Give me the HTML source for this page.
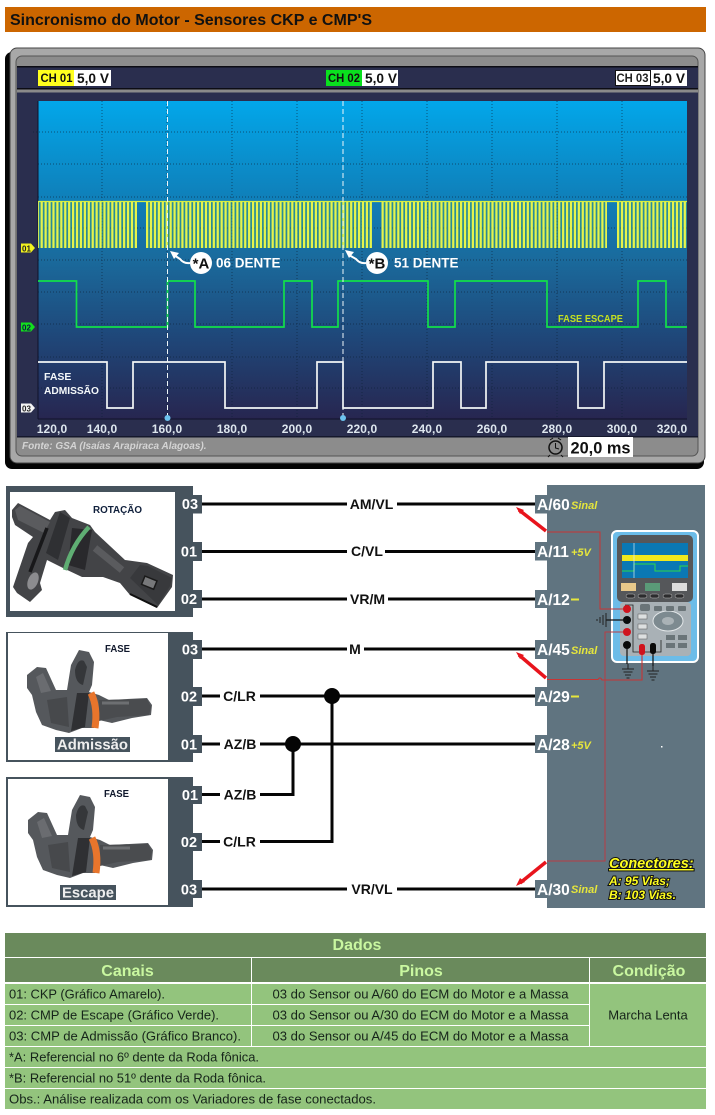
<!DOCTYPE html>
<html lang="pt">
<head>
<meta charset="utf-8">
<title>Sincronismo do Motor - Sensores CKP e CMP'S</title>
<style>
html,body{margin:0;padding:0;background:#fff;}
svg{display:block;font-family:"Liberation Sans",Arial,sans-serif;}
.w{fill:none;stroke:#050505;stroke-width:3;}
.pin{fill:#fff;font-weight:bold;font-size:14.5px;text-anchor:middle;}
.wl{fill:#111;font-weight:bold;font-size:14px;text-anchor:middle;}
.ax{fill:#dde6ee;font-weight:bold;font-size:12px;text-anchor:middle;letter-spacing:.1px;}
.ecm{fill:#fff;font-weight:bold;font-size:15.5px;}
.sig{fill:#e6e63c;font-weight:bold;font-style:italic;font-size:11px;}
.th{fill:#c9f7a0;font-weight:bold;font-size:16px;text-anchor:middle;}
.td{fill:#16241a;font-size:13px;}
.tab{fill:#46535d;}
</style>
</head>
<body>
<svg width="715" height="1115" viewBox="0 0 715 1115" xmlns="http://www.w3.org/2000/svg">
<defs>
<linearGradient id="scr" x1="0" y1="0" x2="0" y2="1">
<stop offset="0" stop-color="#02a7ea"/>
<stop offset=".3" stop-color="#0f80ba"/>
<stop offset=".5" stop-color="#1a6a9c"/>
<stop offset=".75" stop-color="#1f4678"/>
<stop offset="1" stop-color="#272650"/>
</linearGradient>
<g id="sensorF">
<path d="M28 820L38 812L47 813L57 835L68 835L72 810L80 795L90 797L95 807L93 830L90 837L100 840L110 845L148 843L153 850L152 860L133 863L113 868L100 865L95 873L83 873L70 878L57 875L43 870L37 857L33 840L28 833Z" fill="#55585c"/>
<path d="M37 822L44 818L52 836L42 838Z" fill="#6a6c70"/>
<path d="M76 815Q79 803 85 806L88 812L84 830Q76 828 76 815Z" fill="#35373a"/>
<path d="M48 845L68 842L70 872L52 868Z" fill="#47494c"/>
<path d="M78 838L90 838L86 872L72 876Z" fill="#2f3033"/>
<path d="M100 845L148 844L152 852L150 860L118 862L100 866Z" fill="#4a4c4f"/>
<path d="M103 848L130 848" stroke="#6d6f72" stroke-width="3"/>
<path d="M92 838Q99 852 96 873" fill="none" stroke="#e8752c" stroke-width="7"/>
</g>
<g id="gnd"><path d="M0 0V5M-6 5H6M-4.500 8H4.500M-3 11H3M-1.500 14H1.500" stroke="#222" stroke-width="1" fill="none"/></g>
</defs>

<rect width="715" height="1115" fill="#fff"/>

<!-- title -->
<rect x="5" y="7" width="701" height="25" fill="#cc6600"/>
<text x="10" y="25" font-size="16" font-weight="bold" fill="#111" textLength="362" lengthAdjust="spacingAndGlyphs">Sincronismo do Motor - Sensores CKP e CMP'S</text>

<!-- oscilloscope frame -->
<rect x="5" y="52" width="699" height="417" rx="7" fill="#050505"/>
<rect x="10" y="48" width="695" height="415" rx="7" fill="#a8a8a8" stroke="#444"/>
<rect x="16" y="56" width="682" height="400" rx="6" fill="#8c8c8c" stroke="#555"/>
<rect x="17" y="66" width="681" height="371" fill="#2a2e4e"/>
<rect x="17" y="66" width="681" height="1.500" fill="#0c0c14"/>
<rect x="17" y="88" width="681" height="1.500" fill="#0c0c14"/>
<rect x="17" y="89.500" width="681" height="3" fill="#8a8a8a"/>
<rect x="17" y="436" width="681" height="1.500" fill="#15182c"/>

<!-- channels -->
<rect x="38" y="70" width="73" height="16" fill="#fff"/><rect x="38" y="70" width="36" height="16" fill="#ffff1e"/>
<text x="40.500" y="82" font-size="11.500" font-weight="bold" fill="#111" textLength="32" lengthAdjust="spacingAndGlyphs">CH 01</text>
<text x="77" y="83" font-size="14" font-weight="bold" fill="#111" textLength="32" lengthAdjust="spacingAndGlyphs">5,0 V</text>
<rect x="326" y="70" width="72" height="16" fill="#fff"/><rect x="326" y="70" width="36" height="16" fill="#0ae01e"/>
<text x="328" y="82" font-size="11.500" font-weight="bold" fill="#111" textLength="32" lengthAdjust="spacingAndGlyphs">CH 02</text>
<text x="365" y="83" font-size="14" font-weight="bold" fill="#111" textLength="32" lengthAdjust="spacingAndGlyphs">5,0 V</text>
<rect x="615" y="70" width="72" height="16" fill="#fff"/><rect x="615.500" y="70.500" width="35" height="15" fill="#fff" stroke="#111"/>
<text x="616.500" y="82" font-size="11.500" font-weight="bold" fill="#222" textLength="32" lengthAdjust="spacingAndGlyphs">CH 03</text>
<text x="653" y="83" font-size="14" font-weight="bold" fill="#111" textLength="32" lengthAdjust="spacingAndGlyphs">5,0 V</text>

<!-- screen -->
<rect x="38" y="101" width="649" height="318" fill="url(#scr)"/>
<path d="M38 419H687M38 101V419" stroke="#10122a" stroke-width="1" fill="none"/>
<g stroke="#0c2036" stroke-width="1" stroke-dasharray="1 2" fill="none" opacity=".6">
<path d="M102 101V419M167 101V419M232 101V419M297 101V419M362 101V419M427 101V419M492 101V419M557 101V419M622 101V419"/>
<path d="M33 132H687M38 164H687M38 197H687M38 228H687M38 260H687M38 292H687M38 324H687M38 357H687M38 388H687"/>
</g>

<!-- CH1 -->
<g stroke="#3fa07f" stroke-width="46" fill="none" opacity=".5">
<line x1="38" y1="225" x2="137" y2="225"/>
<line x1="146" y1="225" x2="372" y2="225"/>
<line x1="381.500" y1="225" x2="607" y2="225"/>
<line x1="617" y1="225" x2="687" y2="225"/>
</g>
<path d="M38 201.500H687" stroke="#d8ef40" stroke-width="1.200"/>
<g stroke="#e6f44c" stroke-width="46" fill="none">
<line x1="137" y1="225" x2="38" y2="225" stroke-dasharray="2.200 1.725"/>
<line x1="146" y1="225" x2="372" y2="225" stroke-dasharray="2.200 1.725"/>
<line x1="381.500" y1="225" x2="607" y2="225" stroke-dasharray="2.200 1.725"/>
<line x1="617" y1="225" x2="687" y2="225" stroke-dasharray="2.200 1.725"/>
</g>

<!-- CH2 / CH3 -->
<path d="M38 281H76.500V327H167.500V281H195V327H284V281H312V327H338V281H428V327H455V281H547V327H638V281H666V327H687" fill="none" stroke="#12e04a" stroke-width="1.700"/>
<path d="M38 362H107V408H133V362H225V408H317V362H343V408H433V362H461V408H486V362H578V408H604V362H687" fill="none" stroke="#f2f6f6" stroke-width="1.700"/>

<!-- cursors -->
<g stroke="#eef6fa" stroke-width="1" stroke-dasharray="5 3">
<line x1="167.500" y1="101" x2="167.500" y2="417"/><line x1="343" y1="101" x2="343" y2="417"/>
</g>
<circle cx="167.500" cy="418" r="3" fill="#6cc2ee"/><circle cx="343" cy="418" r="3" fill="#6cc2ee"/>

<!-- channel markers -->
<path d="M21 243.500H31L35 248L31 252.500H21Z" fill="#f2f21e"/><text x="22" y="251.500" font-size="8" font-weight="bold" fill="#222">01</text>
<path d="M21 322.500H31L35 327L31 331.500H21Z" fill="#12e01e"/><text x="22" y="330.500" font-size="8" font-weight="bold" fill="#114">02</text>
<path d="M21 403.500H31L35 408L31 412.500H21Z" fill="#f4f4f4"/><text x="22" y="411.500" font-size="8" font-weight="bold" fill="#222">03</text>

<!-- annotations -->
<path d="M190 263Q184 264 180 259L174 255" fill="none" stroke="#fff" stroke-width="2"/>
<path d="M170 251L179 253L174 259Z" fill="#fff"/>
<circle cx="201" cy="263" r="11" fill="#fff"/>
<text x="201" y="268.500" font-size="15" font-weight="bold" fill="#111" text-anchor="middle">*A</text>
<text x="216" y="267.500" font-size="13.500" font-weight="bold" fill="#fff">06 DENTE</text>
<path d="M366 263Q360 264 356 259L349 255" fill="none" stroke="#fff" stroke-width="2"/>
<path d="M345 250L354 252L349 258Z" fill="#fff"/>
<circle cx="377" cy="263" r="11" fill="#fff"/>
<text x="377" y="268.500" font-size="15" font-weight="bold" fill="#111" text-anchor="middle">*B</text>
<text x="394" y="267.500" font-size="13.500" font-weight="bold" fill="#fff">51 DENTE</text>
<text x="44" y="380" font-size="10.500" font-weight="bold" fill="#f4f8fa">FASE</text>
<text x="44" y="394" font-size="10.500" font-weight="bold" fill="#f4f8fa" textLength="55" lengthAdjust="spacingAndGlyphs">ADMISSÃO</text>
<text x="558" y="322" font-size="10" font-weight="bold" fill="#c4e020" textLength="65" lengthAdjust="spacingAndGlyphs">FASE ESCAPE</text>

<!-- axis -->
<text class="ax" x="52" y="433">120,0</text><text class="ax" x="102" y="433">140,0</text><text class="ax" x="167" y="433">160,0</text><text class="ax" x="232" y="433">180,0</text><text class="ax" x="297" y="433">200,0</text><text class="ax" x="362" y="433">220,0</text><text class="ax" x="427" y="433">240,0</text><text class="ax" x="492" y="433">260,0</text><text class="ax" x="557" y="433">280,0</text><text class="ax" x="622" y="433">300,0</text><text class="ax" x="672" y="433">320,0</text>

<text x="22" y="449" font-size="10" font-weight="bold" font-style="italic" fill="#d4d4d4">Fonte: GSA (Isaías Arapiraca Alagoas).</text>
<circle cx="555.500" cy="447.500" r="6.500" fill="none" stroke="#111" stroke-width="1.500"/>
<path d="M555.500 443V448L559 449M550 455L548 457M561 455L563 457M550 440L553 438M561 440L558 438" fill="none" stroke="#111" stroke-width="1"/>
<rect x="568" y="437" width="65" height="20" fill="#fff"/>
<text x="570.500" y="453.500" font-size="17" font-weight="bold" fill="#111" textLength="60" lengthAdjust="spacingAndGlyphs">20,0 ms</text>

<!-- ECM panel -->
<rect x="547" y="485" width="158" height="423" fill="#607480"/>

<!-- sensor frames -->
<rect x="6" y="486" width="187" height="131" fill="#46535d"/>
<rect x="10" y="492" width="165" height="119" fill="#fff"/>
<rect x="6" y="632" width="187" height="130" fill="#46535d"/>
<rect x="8" y="633" width="160" height="127" fill="#fff"/>
<rect x="6" y="777" width="187" height="130" fill="#46535d"/>
<rect x="8" y="779" width="160" height="126" fill="#fff"/>

<!-- pin tabs -->
<g class="tab">
<rect x="178" y="495" width="24" height="18.500"/><rect x="178" y="542" width="24" height="19"/><rect x="178" y="590" width="24" height="18"/>
<rect x="178" y="640" width="24" height="19"/><rect x="178" y="687" width="24" height="19"/><rect x="178" y="735" width="24" height="18"/>
<rect x="178" y="786" width="24" height="18"/><rect x="178" y="833" width="24" height="18"/><rect x="178" y="880" width="24" height="18"/>
</g>
<text class="pin" x="190" y="509">03</text><text class="pin" x="189" y="556.500">01</text><text class="pin" x="189" y="604">02</text>
<text class="pin" x="190" y="654.500">03</text><text class="pin" x="189" y="701.500">02</text><text class="pin" x="189" y="749.500">01</text>
<text class="pin" x="190" y="800">01</text><text class="pin" x="189" y="847">02</text><text class="pin" x="189" y="894.500">03</text>

<!-- sensor rotation -->
<g>
<path d="M12 510L18 503L50 520L55 512L65 510L72 518L90 525L95 532L125 560L147 563L173 575L172 587L157 608L130 595L120 583L103 577L82 577L63 568L47 560L40 583L42 590L30 602L17 593L13 587L28 543L33 537L15 525L12 517Z" fill="#434447"/>
<path d="M15 510L20 506L50 522L44 533L18 520Z" fill="#5a5b5e"/>
<ellipse cx="33" cy="581" rx="5" ry="9" transform="rotate(22 33 581)" fill="#8c8c8f"/>
<path d="M47 528L30 572" stroke="#18181a" stroke-width="3.500"/>
<path d="M60 512L70 518L58 560L46 553Z" fill="#2f3033"/>
<path d="M72 528L92 530L85 570L68 565Z" fill="#29292c"/>
<path d="M95 548L122 570" stroke="#5a5b5e" stroke-width="7"/>
<path d="M130 578L140 565L148 566L172 578L170 586L158 605Z" fill="#38393c"/>
<path d="M130 594L157 607" stroke="#111" stroke-width="2"/>
<rect x="143" y="578" width="13" height="9" fill="#77787a" stroke="#1a1a1a" stroke-width="1.500" transform="rotate(22 149 582)"/>
<path d="M89 527Q72 545 65 570" stroke="#5fae73" stroke-width="4.500" fill="none"/>
</g>
<text x="93" y="513" font-size="10" font-weight="bold" fill="#10203c" textLength="49" lengthAdjust="spacingAndGlyphs">ROTAÇÃO</text>

<use href="#sensorF" transform="translate(-1,-145)"/>
<use href="#sensorF"/>
<text x="105" y="652" font-size="10" font-weight="bold" fill="#10182c" textLength="25" lengthAdjust="spacingAndGlyphs">FASE</text>
<text x="104" y="797" font-size="10" font-weight="bold" fill="#10182c" textLength="25" lengthAdjust="spacingAndGlyphs">FASE</text>
<rect x="55" y="737" width="75" height="15" fill="#46535d"/>
<text x="57" y="749.500" font-size="14.500" font-weight="bold" fill="#eee" textLength="71" lengthAdjust="spacingAndGlyphs">Admissão</text>
<rect x="60" y="885" width="56" height="15" fill="#46535d"/>
<text x="62" y="897.500" font-size="14.500" font-weight="bold" fill="#eee" textLength="52" lengthAdjust="spacingAndGlyphs">Escape</text>

<!-- wires -->
<path class="w" d="M202 504H347M397 504H535"/>
<path class="w" d="M202 551.500H347M385 551.500H535"/>
<path class="w" d="M202 599H347M388 599H535"/>
<path class="w" d="M202 649H347M364 649H535"/>
<path class="w" d="M202 696H220M260 696H535"/>
<path class="w" d="M202 744H220M260 744H535"/>
<path class="w" d="M202 794.500H220M260 794.500H293V744"/>
<path class="w" d="M202 841.500H220M260 841.500H332V696"/>
<path class="w" d="M202 889H347M397 889H535"/>
<circle cx="332" cy="696" r="8" fill="#050505"/>
<circle cx="293" cy="744" r="8" fill="#050505"/>
<text class="wl" x="371.500" y="509">AM/VL</text>
<text class="wl" x="367" y="556">C/VL</text>
<text class="wl" x="367.500" y="604">VR/M</text>
<text class="wl" x="355" y="654">M</text>
<text class="wl" x="239.500" y="701">C/LR</text>
<text class="wl" x="240" y="749">AZ/B</text>
<text class="wl" x="240" y="799.500">AZ/B</text>
<text class="wl" x="239.500" y="846.500">C/LR</text>
<text class="wl" x="372" y="894">VR/VL</text>

<!-- ECM tabs -->
<g class="tab" style="fill:#607480">
<rect x="535" y="495" width="14" height="18.500"/><rect x="535" y="542" width="14" height="18.500"/><rect x="535" y="590" width="14" height="18"/>
<rect x="535" y="640" width="14" height="19"/><rect x="535" y="687" width="14" height="19"/><rect x="535" y="735" width="14" height="18"/>
<rect x="535" y="880" width="14" height="18"/>
</g>
<text class="ecm" x="537" y="510">A/60</text><text class="sig" x="571" y="509">Sinal</text>
<text class="ecm" x="537" y="557">A/11</text><text class="sig" x="571" y="556">+5V</text>
<text class="ecm" x="537" y="605">A/12</text><rect x="571" y="598.500" width="8" height="2" fill="#e6e63c"/>
<text class="ecm" x="537" y="655">A/45</text><text class="sig" x="571" y="654">Sinal</text>
<text class="ecm" x="537" y="702">A/29</text><rect x="571" y="695.500" width="8" height="2" fill="#e6e63c"/>
<text class="ecm" x="537" y="750">A/28</text><text class="sig" x="571" y="749">+5V</text>
<text class="ecm" x="537" y="895">A/30</text><text class="sig" x="571" y="893">Sinal</text>
<rect x="661" y="746" width="1.500" height="1.500" fill="#fff"/>

<!-- mini scope -->
<rect x="612" y="531" width="86" height="131" rx="5" fill="#6cbce8" stroke="#fff" stroke-width="2"/>
<rect x="617" y="535" width="76" height="67" rx="5" fill="#55575a"/>
<rect x="622" y="543" width="66" height="35" fill="#0a78b4"/>
<rect x="622" y="555" width="66" height="6" fill="#f0e81e"/>
<path d="M622 571H634V564H655V571H680V566H688" fill="none" stroke="#2ed84a" stroke-width="1"/>
<path d="M634 543V578" stroke="#d8e8f0" stroke-width=".7"/>
<rect x="621" y="583" width="15" height="8" fill="#e8c88a"/><rect x="645" y="583" width="15" height="8" fill="#5a9a78"/><rect x="672" y="583" width="15" height="8" fill="#dcdcdc"/>
<g fill="#2c2c2e" stroke="#bbb" stroke-width=".5"><rect x="626" y="594" width="9" height="4" rx="2"/><rect x="638" y="594" width="9" height="4" rx="2"/><rect x="650" y="594" width="9" height="4" rx="2"/><rect x="663" y="594" width="9" height="4" rx="2"/><rect x="675" y="594" width="9" height="4" rx="2"/></g>
<rect x="620" y="602" width="71" height="54" rx="4" fill="#a9b1b6"/>
<ellipse cx="668" cy="621" rx="15" ry="10" fill="#7d8a90" stroke="#e2e6e8"/>
<ellipse cx="668" cy="621" rx="6" ry="4" fill="#aab2b6"/>
<g fill="#6a7478"><rect x="640" y="604" width="10" height="7" rx="2"/><rect x="654" y="606" width="8" height="5" rx="1"/><rect x="666" y="606" width="8" height="5" rx="1"/><rect x="678" y="606" width="8" height="5" rx="1"/><rect x="666" y="635" width="9" height="5"/><rect x="678" y="635" width="9" height="5"/><rect x="666" y="643" width="9" height="5"/><rect x="678" y="643" width="9" height="5"/></g>
<g fill="#dcdfe0" stroke="#555" stroke-width=".5"><rect x="638" y="614" width="9" height="5"/><rect x="638" y="624" width="9" height="5"/><rect x="638" y="634" width="9" height="5"/></g>
<path d="M625 605H633V652H661V640" fill="none" stroke="#222" stroke-width=".8"/>

<!-- probes -->
<path d="M547 532H600V609H625" fill="none" stroke="#c83434" stroke-width="1"/>
<path d="M547 679.500H598Q600 676 602 680H642V655" fill="none" stroke="#c83434" stroke-width="1.100"/>
<path d="M547 861H605V632H625" fill="none" stroke="#b83c44" stroke-width="1"/>
<circle cx="627" cy="609" r="4" fill="#d0141e"/>
<circle cx="627" cy="620" r="4" fill="#0a0a0a"/>
<circle cx="627" cy="632" r="4" fill="#d0141e"/>
<circle cx="627" cy="645" r="4" fill="#0a0a0a"/>
<rect x="639" y="644" width="6" height="11" rx="2.500" fill="#d0141e"/>
<rect x="650" y="643" width="6" height="11" rx="2.500" fill="#0a0a0a"/>
<path d="M627 620H606M627 648V664M653 654V666" stroke="#111" stroke-width="1.200" fill="none"/>
<path d="M606 613V627M603 615V625M600 617V623M597 619V621" stroke="#222" stroke-width="1" fill="none"/>
<use href="#gnd" transform="translate(628,664)"/>
<use href="#gnd" transform="translate(653,666)"/>

<!-- red arrows -->
<g stroke="#e8141c" stroke-width="3.500" fill="#e8141c">
<line x1="546" y1="531" x2="519" y2="510"/>
<line x1="546" y1="678" x2="519" y2="655"/>
<line x1="546" y1="862" x2="520" y2="883"/>
</g>
<path d="M516 507L524 510L520 514Z M516 652L524 655L520 659Z M516 886L520 878L525 882Z" fill="#e8141c"/>

<!-- conectores -->
<g fill="#ffff20" font-weight="bold" font-style="italic" stroke="#111" stroke-width="2" style="paint-order:stroke">
<text x="609" y="868" font-size="14.500" text-decoration="underline">Conectores:</text>
<text x="609" y="885" font-size="12">A: 95 Vias;</text>
<text x="609" y="899" font-size="12">B: 103 Vias.</text>
</g>

<!-- table -->
<rect x="5" y="933" width="701" height="24" fill="#6a8a5c"/>
<rect x="5" y="958" width="246" height="24" fill="#6a8a5c"/><rect x="252" y="958" width="337" height="24" fill="#6a8a5c"/><rect x="590" y="958" width="116" height="24" fill="#6a8a5c"/>
<rect x="5" y="984" width="246" height="20" fill="#93c47d"/><rect x="252" y="984" width="337" height="20" fill="#93c47d"/>
<rect x="5" y="1005" width="246" height="20" fill="#93c47d"/><rect x="252" y="1005" width="337" height="20" fill="#93c47d"/>
<rect x="5" y="1026" width="246" height="20" fill="#93c47d"/><rect x="252" y="1026" width="337" height="20" fill="#93c47d"/>
<rect x="590" y="984" width="116" height="62" fill="#93c47d"/>
<rect x="5" y="1047" width="701" height="20" fill="#93c47d"/>
<rect x="5" y="1068" width="701" height="20" fill="#93c47d"/>
<rect x="5" y="1089" width="701" height="20" fill="#93c47d"/>
<text class="th" x="357" y="950">Dados</text>
<text class="th" x="127.500" y="976">Canais</text>
<text class="th" x="421" y="976">Pinos</text>
<text class="th" x="649" y="976">Condição</text>
<text class="td" x="9" y="998.500" textLength="156" lengthAdjust="spacingAndGlyphs">01: CKP (Gráfico Amarelo).</text>
<text class="td" x="9" y="1019.500" textLength="210" lengthAdjust="spacingAndGlyphs">02: CMP de Escape (Gráfico Verde).</text>
<text class="td" x="9" y="1040.500" textLength="232" lengthAdjust="spacingAndGlyphs">03: CMP de Admissão (Gráfico Branco).</text>
<text class="td" x="272.500" y="998.500" textLength="296" lengthAdjust="spacingAndGlyphs">03 do Sensor ou A/60 do ECM do Motor e a Massa</text>
<text class="td" x="272.500" y="1019.500" textLength="296" lengthAdjust="spacingAndGlyphs">03 do Sensor ou A/30 do ECM do Motor e a Massa</text>
<text class="td" x="272.500" y="1040.500" textLength="296" lengthAdjust="spacingAndGlyphs">03 do Sensor ou A/45 do ECM do Motor e a Massa</text>
<text class="td" x="648" y="1019.500" text-anchor="middle">Marcha Lenta</text>
<text class="td" x="9" y="1061.500" textLength="250" lengthAdjust="spacingAndGlyphs">*A: Referencial no 6º dente da Roda fônica.</text>
<text class="td" x="9" y="1082.500" textLength="257" lengthAdjust="spacingAndGlyphs">*B: Referencial no 51º dente da Roda fônica.</text>
<text class="td" x="9" y="1103.500" textLength="367" lengthAdjust="spacingAndGlyphs">Obs.: Análise realizada com os Variadores de fase conectados.</text>
</svg>
</body>
</html>
